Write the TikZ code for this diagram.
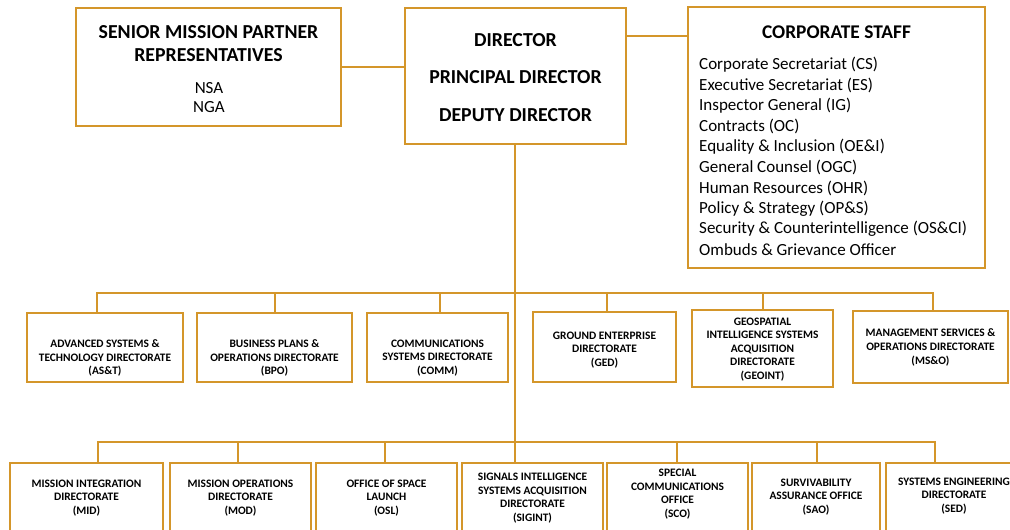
\documentclass[tikz,border=0pt]{standalone}
\usepackage{fontspec}
\setmainfont{Carlito}
\definecolor{org}{RGB}{212,150,42}
\begin{document}
\begin{tikzpicture}[x=1pt,y=-1pt,
  box/.style={draw=org, line width=2pt, fill=white, inner sep=0pt},
  conn/.style={draw=org, line width=1.8pt},
  small/.style={font=\fontsize{11.4}{13.6}\selectfont\bfseries, align=center, inner sep=0pt},
  big/.style={font=\fontsize{19.8}{22}\selectfont\bfseries, inner sep=0pt},
  reg/.style={font=\fontsize{17}{20}\selectfont, inner sep=0pt}]
\useasboundingbox[fill=white] (0,0) rectangle (1010,530);

% top boxes
\node[box, minimum width=265, minimum height=118] (senior) at (208.5,67) {};
\node[box, minimum width=221, minimum height=136] (director) at (515.5,76) {};
\node[box, minimum width=297, minimum height=261] (corp) at (836.5,137.5) {};

% middle row
\node[box, minimum width=156, minimum height=69] (ast) at (105,347.5) {};
\node[box, minimum width=155, minimum height=69] (bpo) at (274.5,347.5) {};
\node[box, minimum width=141, minimum height=69] (comm) at (437.5,347.5) {};
\node[box, minimum width=143, minimum height=70] (ged) at (604.5,347) {};
\node[box, minimum width=141, minimum height=77] (geoint) at (762.5,348.5) {};
\node[box, minimum width=155, minimum height=72] (mso) at (930.5,347) {};

% bottom row
\node[box, minimum width=153, minimum height=70] (mid) at (86.5,498) {};
\node[box, minimum width=141, minimum height=70] (mod) at (240.5,498) {};
\node[box, minimum width=141, minimum height=70] (osl) at (386.5,498) {};
\node[box, minimum width=141, minimum height=70] (sigint) at (532.5,498) {};
\node[box, minimum width=141, minimum height=70] (sco) at (677.5,498) {};
\node[box, minimum width=128, minimum height=70] (sao) at (816,498) {};
\node[box, minimum width=136, minimum height=70] (sed) at (954,498) {};

% connectors
\coordinate (dcy) at (0,36);
\coordinate (tbus) at (515,293);
\coordinate (bbus) at (515,442);
\draw[conn] (senior.east) -- (senior.east -| director.west);
\draw[conn] (director.east |- dcy) -- (corp.west |- dcy);
\draw[conn] (director.south -| tbus) -- (tbus) -- (bbus) -- (bbus |- sigint.north);
\foreach \n/\s in {ast/-8, bpo/0.5, comm/2.5, ged/2.5, geoint/0.5, mso/2.5} {
  \path ([xshift=\s]\n.north) coordinate (\n T);
  \draw[conn] (\n T) |- (tbus);
}
\foreach \n/\s in {mid/11.5, mod/-2.5, osl/-1.5, sco/-0.5, sao/1, sed/-19} {
  \path ([xshift=\s]\n.north) coordinate (\n T);
  \draw[conn] (\n T) |- (bbus);
}

% texts top
\node[big] (s1) at (208.5,32) {SENIOR MISSION PARTNER};
\node[big] (s2) at (208.5,55) {REPRESENTATIVES};
\node[reg] (s3) at (209,88) {NSA};
\node[reg] (s4) at (209,107) {NGA};
\node[big] (d1) at (515.5,40) {DIRECTOR};
\node[big] (d2) at (515.5,77) {PRINCIPAL DIRECTOR};
\node[big] (d3) at (515.5,115) {DEPUTY DIRECTOR};
\node[big, font=\fontsize{19.4}{22}\selectfont\bfseries] (c0) at (836.5,32) {CORPORATE STAFF};
\foreach \t [count=\i] in {Corporate Secretariat (CS), Executive Secretariat (ES),
  Inspector General (IG), Contracts (OC), Equality \& Inclusion (OE\&I),
  General Counsel (OGC), Human Resources (OHR), Policy \& Strategy (OP\&S),
  Security \& Counterintelligence (OS\&CI), Ombuds \& Grievance Officer}
  \node[reg, anchor=west] (cs\i) at (699,{65+20.5*(\i-1)}) {\t};

% texts middle row
\node[small] (tast) at (105,358) {ADVANCED SYSTEMS \&\\TECHNOLOGY DIRECTORATE\\(AS\&T)};
\node[small] (tbpo) at (274.5,358) {BUSINESS PLANS \&\\OPERATIONS DIRECTORATE\\(BPO)};
\node[small] (tcomm) at (437.5,358) {COMMUNICATIONS\\SYSTEMS DIRECTORATE\\(COMM)};
\node[small] (tged) at (604.5,350) {GROUND ENTERPRISE\\DIRECTORATE\\(GED)};
\node[small] (tgeo) at (762.5,349.5) {GEOSPATIAL\\INTELLIGENCE SYSTEMS\\ACQUISITION\\DIRECTORATE\\(GEOINT)};
\node[small] (tmso) at (930.5,347.5) {MANAGEMENT SERVICES \&\\OPERATIONS DIRECTORATE\\(MS\&O)};

% texts bottom row
\node[small] (tmid) at (86.5,498) {MISSION INTEGRATION\\DIRECTORATE\\(MID)};
\node[small] (tmod) at (240.5,498) {MISSION OPERATIONS\\DIRECTORATE\\(MOD)};
\node[small] (tosl) at (386.5,498) {OFFICE OF SPACE\\LAUNCH\\(OSL)};
\node[small] (tsig) at (532.5,498) {SIGNALS INTELLIGENCE\\SYSTEMS ACQUISITION\\DIRECTORATE\\(SIGINT)};
\node[small] (tsco) at (677.5,494) {SPECIAL\\COMMUNICATIONS\\OFFICE\\(SCO)};
\node[small] (tsao) at (816,497) {SURVIVABILITY\\ASSURANCE OFFICE\\(SAO)};
\node[small] (tsed) at (954,496) {SYSTEMS ENGINEERING\\DIRECTORATE\\(SED)};
\end{tikzpicture}
\end{document}
